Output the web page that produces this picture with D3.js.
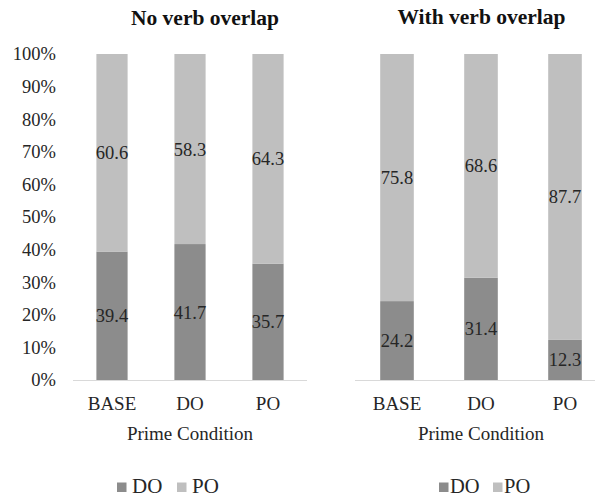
<!DOCTYPE html>
<html>
<head>
<meta charset="utf-8">
<script src="https://cdn.jsdelivr.net/npm/d3@7"></script>
<style>
  html, body { margin: 0; padding: 0; background: #fff; }
  svg { display: block; }
</style>
</head>
<body>
<svg id="chart" width="595" height="499"></svg>
<script>
const categories = ["BASE", "DO", "PO"];
const seriesNames = ["DO", "PO"];
const noOverlapDO = [39.4, 41.7, 35.7];
const noOverlapPO = [60.6, 58.3, 64.3];
const withOverlapDO = [24.2, 31.4, 12.3];
const withOverlapPO = [75.8, 68.6, 87.7];
const yTicks = [0, 10, 20, 30, 40, 50, 60, 70, 80, 90, 100];
const titles = ["No verb overlap", "With verb overlap"];
const xTitle = "Prime Condition";

const FONT = "'Liberation Serif', 'Times New Roman', serif";
const colors = { DO: "#8c8c8c", PO: "#bfbfbf" };
const svg = d3.select("#chart");

const y = d3.scaleLinear().domain([0, 100]).range([380, 54]);

const panels = [
  { title: titles[0], DO: noOverlapDO, PO: noOverlapPO, range: [73, 307], yAxis: true,
    titleX: 205, titleY: 25, legendX: 117, legendGap: 15, legendStep: 60, legendSize: 21 },
  { title: titles[1], DO: withOverlapDO, PO: withOverlapPO, range: [355, 607], yAxis: false,
    titleX: 481.5, titleY: 24, legendX: 439, legendGap: 11, legendStep: 54, legendSize: 20.5 }
];

function txt(sel) {
  return sel.attr("font-family", FONT).attr("fill", "#262626");
}

panels.forEach(p => {
  const g = svg.append("g");
  const x = d3.scaleBand().domain(categories).range(p.range)
    .paddingInner(0.6).paddingOuter(0.3);
  const rows = categories.map((c, i) => ({ cat: c, DO: p.DO[i], PO: p.PO[i] }));
  const stacked = d3.stack().keys(seriesNames)(rows);

  stacked.forEach(s => {
    g.selectAll(null).data(s).enter().append("rect")
      .attr("x", d => x(d.data.cat))
      .attr("width", x.bandwidth())
      .attr("y", d => y(d[1]))
      .attr("height", d => y(d[0]) - y(d[1]))
      .attr("fill", colors[s.key]);
  });

  g.append("line")
    .attr("x1", p.range[0]).attr("x2", p.range[1])
    .attr("y1", y(0) + 0.5).attr("y2", y(0) + 0.5)
    .attr("stroke", "#d9d9d9").attr("stroke-width", 1);

  stacked.forEach(s => {
    txt(g.selectAll(null).data(s).enter().append("text"))
      .attr("x", d => x(d.data.cat) + x.bandwidth() / 2)
      .attr("y", d => (y(d[0]) + y(d[1])) / 2)
      .attr("dy", "0.35em")
      .attr("text-anchor", "middle")
      .attr("font-size", "18.5px")
      .text(d => (d[1] - d[0]).toFixed(1));
  });

  txt(g.selectAll(null).data(categories).enter().append("text"))
    .attr("x", d => x(d) + x.bandwidth() / 2)
    .attr("y", 403)
    .attr("dy", "0.35em")
    .attr("text-anchor", "middle")
    .attr("font-size", "19px")
    .text(d => d);

  txt(g.append("text"))
    .attr("x", (x(categories[0]) + x(categories[2]) + x.bandwidth()) / 2)
    .attr("y", 433).attr("dy", "0.35em")
    .attr("text-anchor", "middle").attr("font-size", "19px")
    .text(xTitle);

  txt(g.append("text"))
    .attr("x", p.titleX).attr("y", p.titleY)
    .attr("text-anchor", "middle").attr("font-size", "21.5px")
    .attr("font-weight", "bold").attr("fill", "#111")
    .text(p.title);

  if (p.yAxis) {
    txt(g.selectAll(null).data(yTicks).enter().append("text"))
      .attr("x", 56).attr("y", d => y(d)).attr("dy", "0.35em")
      .attr("text-anchor", "end").attr("font-size", "18.5px")
      .text(d => d + "%");
  }

  const lg = g.append("g").attr("transform", `translate(${p.legendX},0)`);
  seriesNames.forEach((n, i) => {
    const off = i * p.legendStep;
    lg.append("rect").attr("x", off).attr("y", 482.5).attr("width", 9.5).attr("height", 9.5)
      .attr("fill", colors[n]);
    txt(lg.append("text")).attr("x", off + p.legendGap).attr("y", 493)
      .attr("font-size", p.legendSize + "px").text(n);
  });
});
</script>
</body>
</html>
